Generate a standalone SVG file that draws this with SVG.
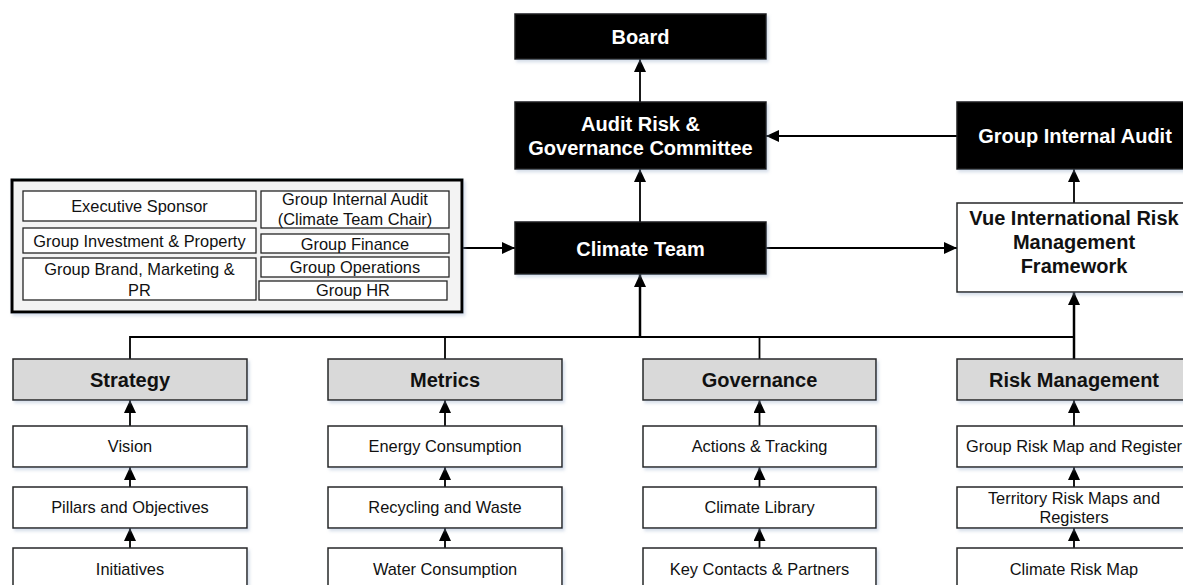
<svg xmlns="http://www.w3.org/2000/svg" width="1183" height="585" viewBox="0 0 1183 585">
  <style>
    .box { fill: #ffffff; stroke: #262626; stroke-width: 1.5; }
    .dark { fill: #000000; stroke: #1a1a1a; stroke-width: 1.5; }
    .head { fill: #d9d9d9; stroke: #262626; stroke-width: 1.5; }
    .panel { fill: #f3f3f3; stroke: #000000; stroke-width: 3; }
    .cell { fill: #ffffff; stroke: #262626; stroke-width: 1.3; }
    .t { font-family: "Liberation Sans", Arial, sans-serif; font-size: 16.4px; fill: #111111; text-anchor: middle; }
    .tb { font-family: "Liberation Sans", Arial, sans-serif; font-size: 20px; font-weight: bold; fill: #111111; text-anchor: middle; }
    .tw { font-family: "Liberation Sans", Arial, sans-serif; font-size: 20px; font-weight: bold; fill: #ffffff; text-anchor: middle; }
    .link { fill: none; stroke: #000000; stroke-width: 1.8; }
    .trunk { fill: none; stroke: #000000; stroke-width: 2.5; }
  </style>
  <defs>
    <marker id="arrow" markerUnits="userSpaceOnUse" markerWidth="14" markerHeight="12" refX="13" refY="6" orient="auto">
      <path d="M0,0 L13,6 L0,12 Z" fill="#000000"/>
    </marker>
    <filter id="shadow" x="-5%" y="-10%" width="115%" height="130%">
      <feDropShadow dx="2" dy="2.5" stdDeviation="1.5" flood-color="#8aa3c4" flood-opacity="0.35"/>
    </filter>
  </defs>

  <!-- connectors -->
  <g id="connectors">
    <line class="link" x1="640" y1="102" x2="640" y2="59" marker-end="url(#arrow)"/>
    <line class="link" x1="957" y1="136" x2="766" y2="136" marker-end="url(#arrow)"/>
    <line class="link" x1="640" y1="222" x2="640" y2="169" marker-end="url(#arrow)"/>
    <line class="link" x1="462" y1="248" x2="515" y2="248" marker-end="url(#arrow)"/>
    <line class="link" x1="766" y1="248" x2="957" y2="248" marker-end="url(#arrow)"/>
    <line class="link" x1="1074" y1="203" x2="1074" y2="169" marker-end="url(#arrow)"/>
    <!-- bus joining the four pillars -->
    <polyline class="link" points="130,359 130,337 1074,337"/>
    <line class="link" x1="445" y1="359" x2="445" y2="337"/>
    <line class="link" x1="759.5" y1="359" x2="759.5" y2="337"/>
    <line class="trunk" x1="640" y1="337" x2="640" y2="274" marker-end="url(#arrow)"/>
    <line class="trunk" x1="1074" y1="359" x2="1074" y2="292" marker-end="url(#arrow)"/>
    <!-- pillar stacks -->
    <line class="link" x1="130" y1="426" x2="130" y2="400" marker-end="url(#arrow)"/>
    <line class="link" x1="130" y1="487" x2="130" y2="467" marker-end="url(#arrow)"/>
    <line class="link" x1="130" y1="548" x2="130" y2="528" marker-end="url(#arrow)"/>
    <line class="link" x1="445" y1="426" x2="445" y2="400" marker-end="url(#arrow)"/>
    <line class="link" x1="445" y1="487" x2="445" y2="467" marker-end="url(#arrow)"/>
    <line class="link" x1="445" y1="548" x2="445" y2="528" marker-end="url(#arrow)"/>
    <line class="link" x1="759.5" y1="426" x2="759.5" y2="400" marker-end="url(#arrow)"/>
    <line class="link" x1="759.5" y1="487" x2="759.5" y2="467" marker-end="url(#arrow)"/>
    <line class="link" x1="759.5" y1="548" x2="759.5" y2="528" marker-end="url(#arrow)"/>
    <line class="link" x1="1074" y1="426" x2="1074" y2="400" marker-end="url(#arrow)"/>
    <line class="link" x1="1074" y1="487" x2="1074" y2="467" marker-end="url(#arrow)"/>
    <line class="link" x1="1074" y1="548" x2="1074" y2="528" marker-end="url(#arrow)"/>
  </g>

  <!-- governance chain -->
  <g id="board">
    <rect class="dark" x="515" y="14" width="251" height="45" filter="url(#shadow)"/>
    <text class="tw" x="640.5" y="43.5">Board</text>
  </g>
  <g id="audit-risk-committee">
    <rect class="dark" x="515" y="102" width="251" height="67" filter="url(#shadow)"/>
    <text class="tw" x="640.5" y="130.5">Audit Risk &amp;</text>
    <text class="tw" x="640.5" y="154.5">Governance Committee</text>
  </g>
  <g id="climate-team">
    <rect class="dark" x="515" y="222" width="251" height="52" filter="url(#shadow)"/>
    <text class="tw" x="640.5" y="255.5">Climate Team</text>
  </g>
  <g id="group-internal-audit">
    <rect class="dark" x="957" y="102" width="236" height="67" filter="url(#shadow)"/>
    <text class="tw" x="1075" y="142.5">Group Internal Audit</text>
  </g>
  <g id="risk-framework">
    <rect class="box" x="957" y="203" width="234" height="89" filter="url(#shadow)"/>
    <text class="tb" x="1074" y="225">Vue International Risk</text>
    <text class="tb" x="1074" y="249">Management</text>
    <text class="tb" x="1074" y="273">Framework</text>
  </g>

  <!-- climate team membership -->
  <g id="members">
    <rect class="panel" x="12" y="180" width="450" height="132" filter="url(#shadow)"/>
    <rect class="cell" x="23" y="191" width="233" height="30"/>
    <text class="t" x="139.5" y="211.7">Executive Sponsor</text>
    <rect class="cell" x="23" y="228" width="233" height="25"/>
    <text class="t" x="139.5" y="247">Group Investment &amp; Property</text>
    <rect class="cell" x="23" y="258" width="233" height="42"/>
    <text class="t" x="139.5" y="275">Group Brand, Marketing &amp;</text>
    <text class="t" x="139.5" y="295.5">PR</text>
    <rect class="cell" x="261" y="191" width="188" height="37"/>
    <text class="t" x="355" y="205">Group Internal Audit</text>
    <text class="t" x="355" y="224.5">(Climate Team Chair)</text>
    <rect class="cell" x="261" y="234" width="188" height="19"/>
    <text class="t" x="355" y="249.5">Group Finance</text>
    <rect class="cell" x="261" y="257" width="188" height="20"/>
    <text class="t" x="355" y="272.7">Group Operations</text>
    <rect class="cell" x="259" y="281" width="188" height="19"/>
    <text class="t" x="353" y="296">Group HR</text>
  </g>

  <!-- pillar: strategy -->
  <g id="strategy">
    <rect class="head" x="13" y="359" width="234" height="41" filter="url(#shadow)"/>
    <text class="tb" x="130" y="386.5">Strategy</text>
  </g>
  <g id="vision">
    <rect class="box" x="13" y="426" width="234" height="41" filter="url(#shadow)"/>
    <text class="t" x="130" y="452.4">Vision</text>
  </g>
  <g id="pillars-objectives">
    <rect class="box" x="13" y="487" width="234" height="41" filter="url(#shadow)"/>
    <text class="t" x="130" y="513.4">Pillars and Objectives</text>
  </g>
  <g id="initiatives">
    <rect class="box" x="13" y="548" width="234" height="41" filter="url(#shadow)"/>
    <text class="t" x="130" y="574.6">Initiatives</text>
  </g>

  <!-- pillar: metrics -->
  <g id="metrics">
    <rect class="head" x="328" y="359" width="234" height="41" filter="url(#shadow)"/>
    <text class="tb" x="445" y="386.5">Metrics</text>
  </g>
  <g id="energy">
    <rect class="box" x="328" y="426" width="234" height="41" filter="url(#shadow)"/>
    <text class="t" x="445" y="452.4">Energy Consumption</text>
  </g>
  <g id="recycling">
    <rect class="box" x="328" y="487" width="234" height="41" filter="url(#shadow)"/>
    <text class="t" x="445" y="513.4">Recycling and Waste</text>
  </g>
  <g id="water">
    <rect class="box" x="328" y="548" width="234" height="41" filter="url(#shadow)"/>
    <text class="t" x="445" y="574.6">Water Consumption</text>
  </g>

  <!-- pillar: governance -->
  <g id="governance">
    <rect class="head" x="643" y="359" width="233" height="41" filter="url(#shadow)"/>
    <text class="tb" x="759.5" y="386.5">Governance</text>
  </g>
  <g id="actions">
    <rect class="box" x="643" y="426" width="233" height="41" filter="url(#shadow)"/>
    <text class="t" x="759.5" y="452.4">Actions &amp; Tracking</text>
  </g>
  <g id="library">
    <rect class="box" x="643" y="487" width="233" height="41" filter="url(#shadow)"/>
    <text class="t" x="759.5" y="513.4">Climate Library</text>
  </g>
  <g id="contacts">
    <rect class="box" x="643" y="548" width="233" height="41" filter="url(#shadow)"/>
    <text class="t" x="759.5" y="574.6">Key Contacts &amp; Partners</text>
  </g>

  <!-- pillar: risk management -->
  <g id="risk-management">
    <rect class="head" x="957" y="359" width="234" height="41" filter="url(#shadow)"/>
    <text class="tb" x="1074" y="386.5">Risk Management</text>
  </g>
  <g id="group-risk-map">
    <rect class="box" x="957" y="426" width="234" height="41" filter="url(#shadow)"/>
    <text class="t" x="1074" y="452.4">Group Risk Map and Register</text>
  </g>
  <g id="territory-risk-maps">
    <rect class="box" x="957" y="487" width="234" height="41" filter="url(#shadow)"/>
    <text class="t" x="1074" y="504">Territory Risk Maps and</text>
    <text class="t" x="1074" y="523.3">Registers</text>
  </g>
  <g id="climate-risk-map">
    <rect class="box" x="957" y="548" width="234" height="41" filter="url(#shadow)"/>
    <text class="t" x="1074" y="574.6">Climate Risk Map</text>
  </g>
</svg>
